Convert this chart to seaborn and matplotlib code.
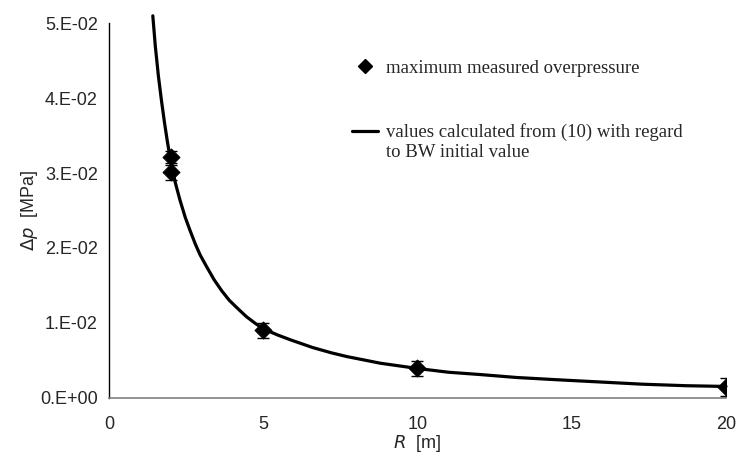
import matplotlib
matplotlib.use("Agg")
import matplotlib.pyplot as plt
from matplotlib.lines import Line2D
import seaborn as sns
import pandas as pd

# measured maximum overpressure
R_meas = [2, 2, 5, 10, 20]
dp_meas = [0.0321, 0.0301, 0.0090, 0.0039, 0.0014]
dp_err = [0.0008, 0.0010, 0.0010, 0.0010, 0.0012]

# curve calculated from (10)
R_calc = [1.42, 1.5, 1.6, 1.7, 1.8, 1.9, 2.0, 2.15, 2.3, 2.47, 2.63, 2.8,
          2.95, 3.15, 3.4, 3.65, 3.9, 4.2, 4.46, 4.75, 5.0, 5.45, 5.9, 6.6,
          7.2, 7.7, 8.8, 10.0, 11.0, 12.0, 13.2, 14.5, 15.9, 17.3, 18.7, 20.0]
dp_calc = [0.0510, 0.0470, 0.0430, 0.0397, 0.0367, 0.0340, 0.0316, 0.0287,
           0.0264, 0.0241, 0.0223, 0.0205, 0.0191, 0.0176, 0.0158, 0.0143,
           0.0130, 0.0118, 0.0108, 0.0099, 0.0092, 0.0084, 0.0077, 0.0067,
           0.0060, 0.0055, 0.0046, 0.0039, 0.0034, 0.0031, 0.0027, 0.0024,
           0.0021, 0.0018, 0.0016, 0.0015]

x_ticks = [0, 5, 10, 15, 20]
y_ticks = [0.0, 0.01, 0.02, 0.03, 0.04, 0.05]
y_ticklabels = ["0.E+00", "1.E-02", "2.E-02", "3.E-02", "4.E-02", "5.E-02"]

lab_meas = "maximum measured overpressure"
lab_calc = "values calculated from (10) with regard"
lab_calc2 = "to BW initial value"

sns.set_style("white")
plt.rcParams["font.family"] = ["Liberation Sans", "DejaVu Sans"]

fig = plt.figure(figsize=(7.39, 4.57), dpi=100)
ax = fig.add_axes([0.1475, 0.1298, 0.8349, 0.8192])

calc = pd.DataFrame({"R": R_calc, "dp": dp_calc})
sns.lineplot(data=calc, x="R", y="dp", color="black", linewidth=2.3,
             ax=ax, clip_on=False)
ax.errorbar(R_meas, dp_meas, yerr=dp_err, fmt="none", ecolor="black",
            elinewidth=1, capsize=4, capthick=1, zorder=3)
sns.scatterplot(x=R_meas, y=dp_meas, marker="D", s=75, color="black",
                edgecolor="black", ax=ax, zorder=4)

ax.set_xlim(0, 20)
ax.set_ylim(0, 0.05)
ax.set_xticks(x_ticks)
ax.set_yticks(y_ticks, labels=y_ticklabels)
ax.tick_params(axis="both", labelsize=13, direction="out", length=4,
               width=1, pad=4)
ax.tick_params(axis="x", color="#808080", length=5, pad=8)
for s in ["top", "right"]:
    ax.spines[s].set_visible(False)
ax.spines["left"].set_color("black")
ax.spines["left"].set_linewidth(1)
ax.spines["bottom"].set_color("#808080")
ax.spines["bottom"].set_linewidth(1.2)

ax.set_xlabel(r"$\it{R}$  [m]", fontsize=13, labelpad=0)
ax.set_ylabel(r"$\it{\Delta p}$  [MPa]", fontsize=13, labelpad=0)

serif = ["Liberation Serif", "DejaVu Serif"]
h1 = Line2D([], [], marker="D", color="black", linestyle="none", markersize=7.5)
leg1 = ax.legend([h1], [lab_meas], loc="center left",
                 bbox_to_anchor=(0.394, 0.8806), frameon=False,
                 borderpad=0, borderaxespad=0, handlelength=1.39,
                 handletextpad=0.43, prop={"family": serif, "size": 13.5})
ax.add_artist(leg1)
h2 = Line2D([], [], color="black", linewidth=2.3)
h3 = Line2D([], [], color="none")
ax.legend([h2, h3], [lab_calc, lab_calc2], loc="center left",
          bbox_to_anchor=(0.394, 0.683), frameon=False, borderpad=0,
          borderaxespad=0, handlelength=1.39, handletextpad=0.43,
          labelspacing=0.13, prop={"family": serif, "size": 13.5})

fig.savefig("out.png", dpi=100)
